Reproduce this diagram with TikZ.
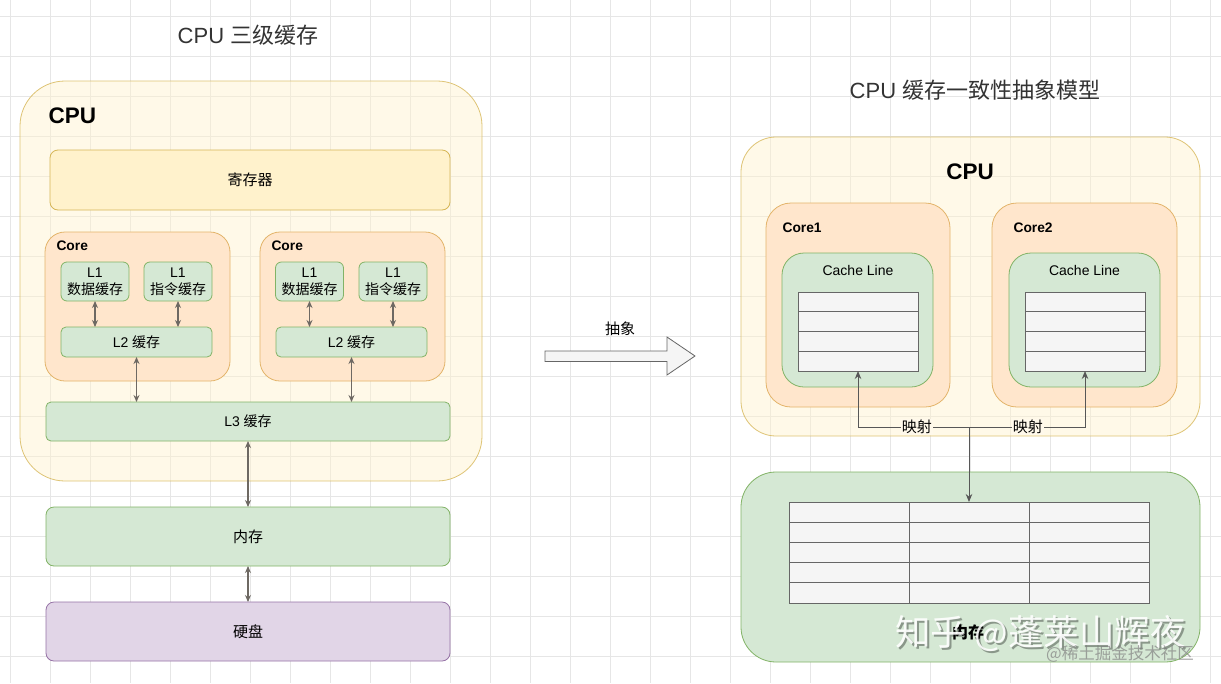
\documentclass[tikz,border=0pt]{standalone}
\usepackage{fontspec}
\setmainfont{Liberation Sans}
\newfontfamily\cjk{Noto Sans CJK SC}
\usetikzlibrary{arrows.meta}
\definecolor{yf}{HTML}{FFF2CC}\definecolor{ys}{HTML}{D6B656}
\definecolor{of}{HTML}{FFE6CC}\definecolor{os}{HTML}{E3B46A}
\definecolor{gf}{HTML}{D5E8D4}\definecolor{gs}{HTML}{82B366}
\definecolor{pf}{HTML}{E1D5E7}\definecolor{ps}{HTML}{9673A6}
\definecolor{cf}{HTML}{F5F5F5}\definecolor{cs}{HTML}{666666}
\definecolor{arc}{HTML}{6E6963}
\definecolor{gridc}{HTML}{E6E6E6}
\definecolor{titc}{HTML}{333333}
\definecolor{lblbg}{HTML}{FFF9EB}
\tikzset{
  base/.style={rectangle, inner sep=0pt, outer sep=0pt, line width=0.8pt, text opacity=1, text=black},
  yel/.style={base, fill=yf, draw=ys},
  ora/.style={base, fill=of, draw=os},
  grn/.style={base, fill=gf, draw=gs},
  pur/.style={base, fill=pf, draw=ps},
  cell/.style={base, fill=cf, draw=cs},
  dbl/.style={{Stealth[length=7pt,width=6pt]}-{Stealth[length=7pt,width=6pt]}, draw=arc, line width=1.1pt},
  sgl/.style={-{Stealth[length=8pt,width=6.5pt]}, draw=cs!85!black, line width=1pt},
  fa/.style={font=\fontsize{14}{17}\selectfont},
  fc/.style={font=\cjk\fontsize{15}{17}\selectfont},
  fbold/.style={font=\bfseries\fontsize{13.8}{16}\selectfont},
  ftitle/.style={font=\fontsize{22}{24}\selectfont, text=titc},
  maplbl/.style={fill=lblbg, inner sep=1pt, font=\cjk\fontsize{15}{17}\selectfont, text=black},
}
\begin{document}
\begin{tikzpicture}[x=1pt,y=-1pt]
\useasboundingbox (0,0) rectangle (1221,683);
\fill[white] (0,0) rectangle (1221,683);
% grid
\foreach \x in {10,50,...,1210} \draw[gridc, line width=0.8pt] (\x,0) -- (\x,683);
\foreach \y in {16,56,...,676} \draw[gridc, line width=0.8pt] (0,\y) -- (1221,\y);

% ---------------- left ----------------
\node[ftitle] (titL) at (248,35) {CPU {\cjk 三级缓存}};
\node[yel, fill opacity=0.45, draw opacity=0.8, rounded corners=45pt, minimum width=462pt, minimum height=400pt] (cpuL) at (251,281) {};
\node[anchor=west, font=\bfseries\fontsize{22.5}{24}\selectfont] (cpuLt) at (45,116) {CPU};
\node[yel, rounded corners=8pt, minimum width=400pt, minimum height=60pt, fc] (reg) at (250,180) {寄存器};

\node[ora, rounded corners=20pt, minimum width=185pt, minimum height=149pt] (coreA) at (137.5,306.5) {};
\node[ora, rounded corners=20pt, minimum width=185pt, minimum height=149pt] (coreB) at (352.5,306.5) {};
\node[anchor=west, fbold] (coreAt) at (53,246) {Core};
\node[anchor=west, fbold] (coreBt) at (268,246) {Core};

\node[grn, rounded corners=6pt, minimum width=68pt, minimum height=39pt, fa, align=center] (l1dA) at (95,281.5) {L1\\{\cjk 数据缓存}};
\node[grn, rounded corners=6pt, minimum width=68pt, minimum height=39pt, fa, align=center] (l1iA) at (178,281.5) {L1\\{\cjk 指令缓存}};
\node[grn, rounded corners=5pt, minimum width=151pt, minimum height=30pt, fa] (l2A) at (136.5,342) {L2 {\cjk 缓存}};
\node[grn, rounded corners=6pt, minimum width=68pt, minimum height=39pt, fa, align=center] (l1dB) at (309.5,281.5) {L1\\{\cjk 数据缓存}};
\node[grn, rounded corners=6pt, minimum width=68pt, minimum height=39pt, fa, align=center] (l1iB) at (393,281.5) {L1\\{\cjk 指令缓存}};
\node[grn, rounded corners=5pt, minimum width=151pt, minimum height=30pt, fa] (l2B) at (351.5,342) {L2 {\cjk 缓存}};

\node[grn, rounded corners=5pt, minimum width=404pt, minimum height=39pt, fa] (l3) at (248,421.5) {L3 {\cjk 缓存}};
\node[grn, rounded corners=8pt, minimum width=404pt, minimum height=59pt, fc] (mem) at (248,536.5) {内存};
\node[pur, rounded corners=8pt, minimum width=404pt, minimum height=59pt, fc] (disk) at (248,631.5) {硬盘};

\draw[dbl] (l1dA.south) -- (l1dA.south |- l2A.north);
\draw[dbl] (l1iA.south) -- (l1iA.south |- l2A.north);
\draw[dbl] (l1dB.south) -- (l1dB.south |- l2B.north);
\draw[dbl] (l1iB.south) -- (l1iB.south |- l2B.north);
\draw[dbl] (l2A.south) -- (l2A.south |- l3.north);
\draw[dbl] (l2B.south) -- (l2B.south |- l3.north);
\draw[dbl] (l3.south) -- (mem.north);
\draw[dbl] (mem.south) -- (disk.north);

% ---------------- middle arrow ----------------
\draw[cs, fill=cf, line width=0.8pt, line join=miter] (545,351) -- (667,351) -- (667,337) -- (695,356) -- (667,375) -- (667,361.5) -- (545,361.5) -- cycle;
\node[fc] (abs) at (620,329) {抽象};

% ---------------- right ----------------
\node[ftitle] (titR) at (975,90) {CPU {\cjk 缓存一致性抽象模型}};
\node[yel, fill opacity=0.45, draw opacity=0.8, rounded corners=35pt, minimum width=459pt, minimum height=299pt] (cpuR) at (970.5,286.5) {};
\node[font=\bfseries\fontsize{22.5}{24}\selectfont] (cpuRt) at (970,172) {CPU};

\node[ora, rounded corners=25pt, minimum width=184pt, minimum height=204pt] (core1) at (858,305) {};
\node[ora, rounded corners=25pt, minimum width=185pt, minimum height=204pt] (core2) at (1084.5,305) {};
\node[anchor=west, fbold] (core1t) at (779,228) {Core1};
\node[anchor=west, fbold] (core2t) at (1010,228) {Core2};

\node[grn, rounded corners=22pt, minimum width=151pt, minimum height=134pt] (cl1) at (857.5,320) {};
\node[grn, rounded corners=22pt, minimum width=151pt, minimum height=134pt] (cl2) at (1084.5,320) {};
\node[fa] (cl1t) at (858,270) {Cache Line};
\node[fa] (cl2t) at (1084.5,270) {Cache Line};

\node[cell, minimum width=120pt, minimum height=79pt] (ta) at (858,331.5) {};
\node[cell, minimum width=120pt, minimum height=79pt] (tb) at (1085,331.5) {};
\foreach \k in {1,2,3} {
  \draw[cs, line width=0.8pt] ([yshift=-\k*19.75pt]ta.north west) -- ([yshift=-\k*19.75pt]ta.north east);
  \draw[cs, line width=0.8pt] ([yshift=-\k*19.75pt]tb.north west) -- ([yshift=-\k*19.75pt]tb.north east);
}

\node[grn, rounded corners=35pt, minimum width=459pt, minimum height=190pt] (memR) at (970.5,567) {};
\node[cell, minimum width=360pt, minimum height=101pt] (mt) at (969,552.5) {};
\foreach \k in {1,2,3,4}
  \draw[cs, line width=0.8pt] ([yshift=-\k*20.2pt]mt.north west) -- ([yshift=-\k*20.2pt]mt.north east);
\foreach \k in {1,2}
  \draw[cs, line width=0.8pt] ([xshift=\k*120pt]mt.north west) -- ([xshift=\k*120pt]mt.south west);
\node[font=\cjk\bfseries\fontsize{16}{18}\selectfont] (memRt) at (968,632) {内存};

\coordinate (j) at (969,427);
\draw[sgl] (j) -| (ta.south) node[pos=0.235, maplbl] {映射};
\draw[sgl] (j) -| (tb.south) node[pos=0.254, maplbl] {映射};
\draw[sgl] (j) -- (j |- mt.north);

% watermark
\node[font=\cjk\fontsize{35.5}{37}\selectfont, text=black, opacity=0.35] (wm0) at (1042.5,635.5) {知乎 @蓬莱山辉夜};
\node[font=\cjk\fontsize{35.5}{37}\selectfont, text=white, opacity=0.9] (wm) at (1040.5,633.5) {知乎 @蓬莱山辉夜};
\node[font=\cjk\fontsize{16.5}{18}\selectfont, text=gray, opacity=0.7] (wm2) at (1120,654) {@稀土掘金技术社区};
\end{tikzpicture}
\end{document}
